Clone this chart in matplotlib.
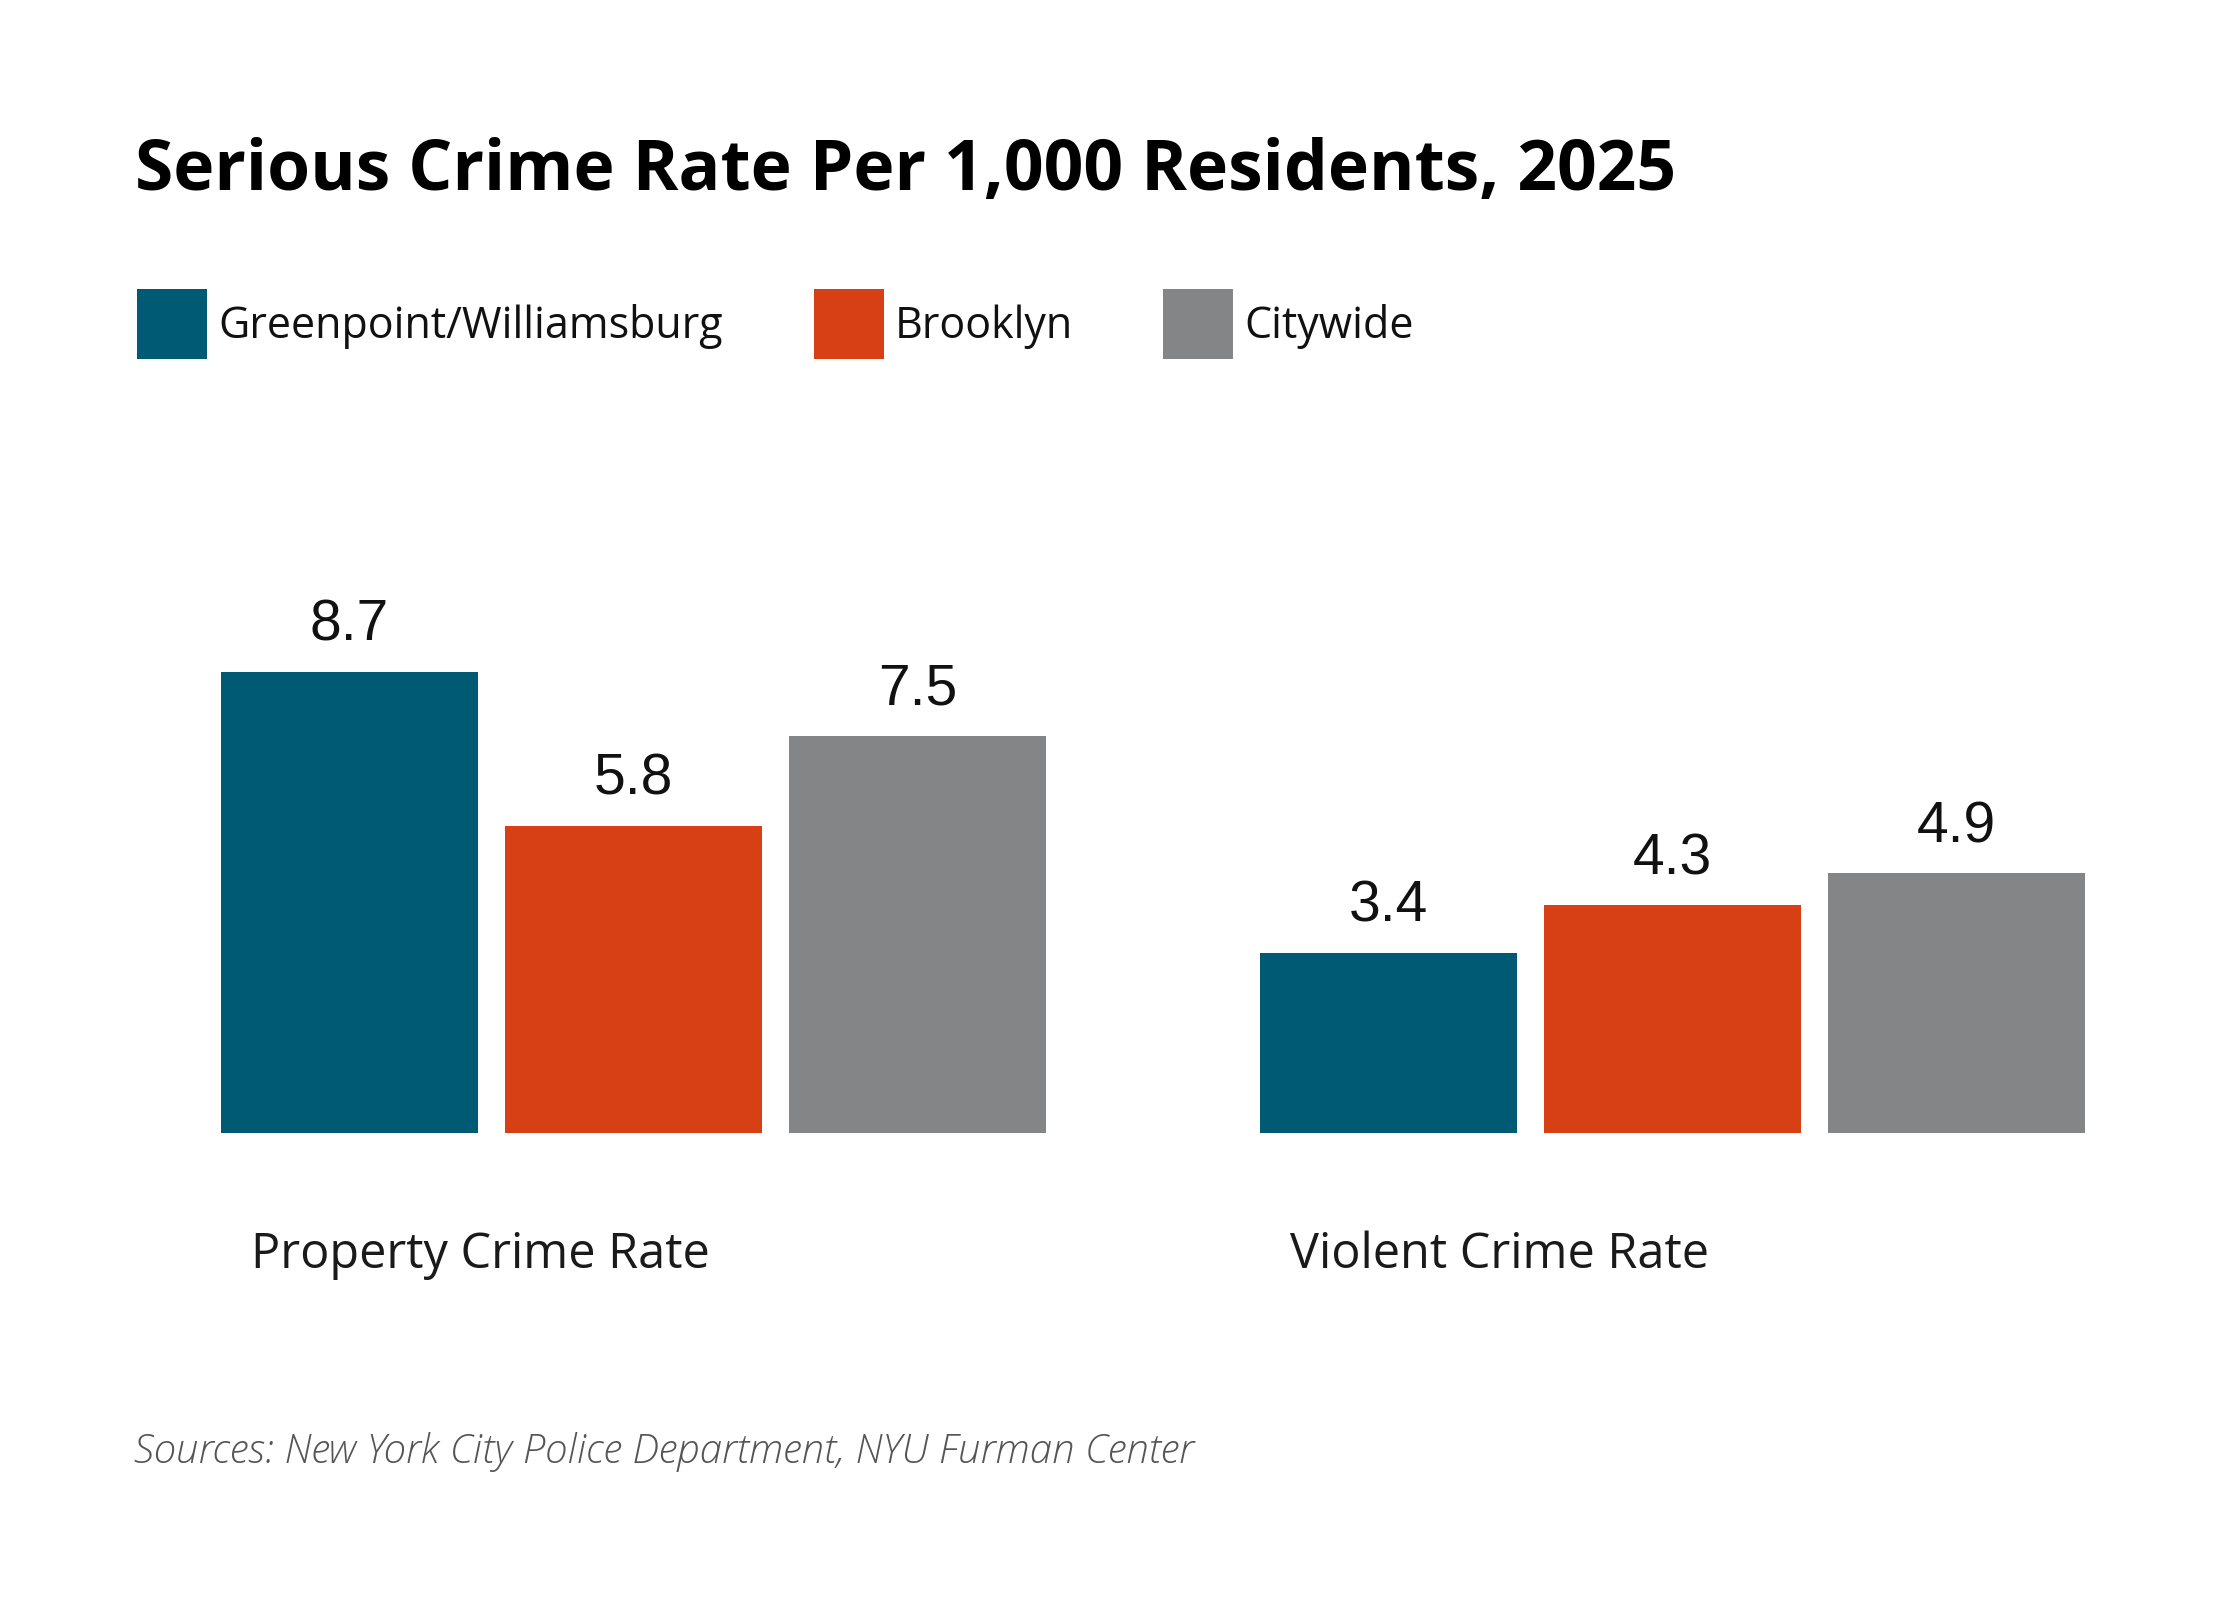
import matplotlib
matplotlib.use("Agg")
import matplotlib.pyplot as plt
from matplotlib.patches import Rectangle

# ---- data ----
categories = ["Property Crime Rate", "Violent Crime Rate"]
series_names = ["Greenpoint/Williamsburg", "Brooklyn", "Citywide"]
greenpoint = [8.7, 3.4]
brooklyn = [5.8, 4.3]
citywide = [7.5, 4.9]
colors = ["#005A74", "#D74014", "#848587"]
title = "Serious Crime Rate Per 1,000 Residents, 2025"
source = "Sources: New York City Police Department, NYU Furman Center"

W, H = 2240, 1600
fig = plt.figure(figsize=(W / 100, H / 100), dpi=100)
fig.patch.set_facecolor("white")

def fx(px):
    return px / W

def fy(py):
    return 1 - py / H

# axes: baseline at y=1133px, 53 px per unit
ymax = 10
ppu = 53.0
base_px = 1133
ax = fig.add_axes([0, fy(base_px), 1, ymax * ppu / H])
ax.set_ylim(0, ymax)
# x mapping: group 0 center at 633.5 px, group spacing 1039 px
g0 = 633.5
gs = 1039.0
ax.set_xlim(-g0 / gs, (W - g0) / gs)
ax.axis("off")

spacing = 284.0 / gs
width = 257.0 / gs
series = [greenpoint, brooklyn, citywide]
for i, vals in enumerate(series):
    xs = [g + (i - 1) * spacing for g in range(len(categories))]
    ax.bar(xs, vals, width=width, color=colors[i], linewidth=0)
    for x, v in zip(xs, vals):
        ax.annotate(f"{v:.1f}", xy=(x, v), xytext=(0, 31 * 0.72),
                    textcoords="offset points", ha="center", va="baseline",
                    fontsize=41, family="Liberation Sans", color="#111111")

for g, cat in enumerate(categories):
    left_edge = g - spacing - width / 2
    ax.annotate(cat, xy=(left_edge, 0), xytext=(30 * 0.72, -(1268 - base_px) * 0.72),
                textcoords="offset points", ha="left", va="baseline",
                fontsize=35, family="Open Sans", color="#1a1a1a", annotation_clip=False)

# title
fig.text(fx(135), fy(190), title, ha="left", va="baseline", fontsize=50,
         family="Open Sans", weight="bold", color="black")

# legend
leg_x = [137, 814, 1163]
for name, col, x in zip(series_names, colors, leg_x):
    fig.patches.append(Rectangle((fx(x), fy(359)), fx(70), 70 / H,
                                 transform=fig.transFigure, color=col, linewidth=0))
    fig.text(fx(x + 81), fy(338), name, ha="left", va="baseline", fontsize=31,
             family="Open Sans", color="#111111")

# source
fig.text(fx(134), fy(1463), source, ha="left", va="baseline", fontsize=29,
         family="Open Sans", style="italic", weight="light", color="#555555")

fig.savefig("out.png", dpi=100, facecolor="white")
